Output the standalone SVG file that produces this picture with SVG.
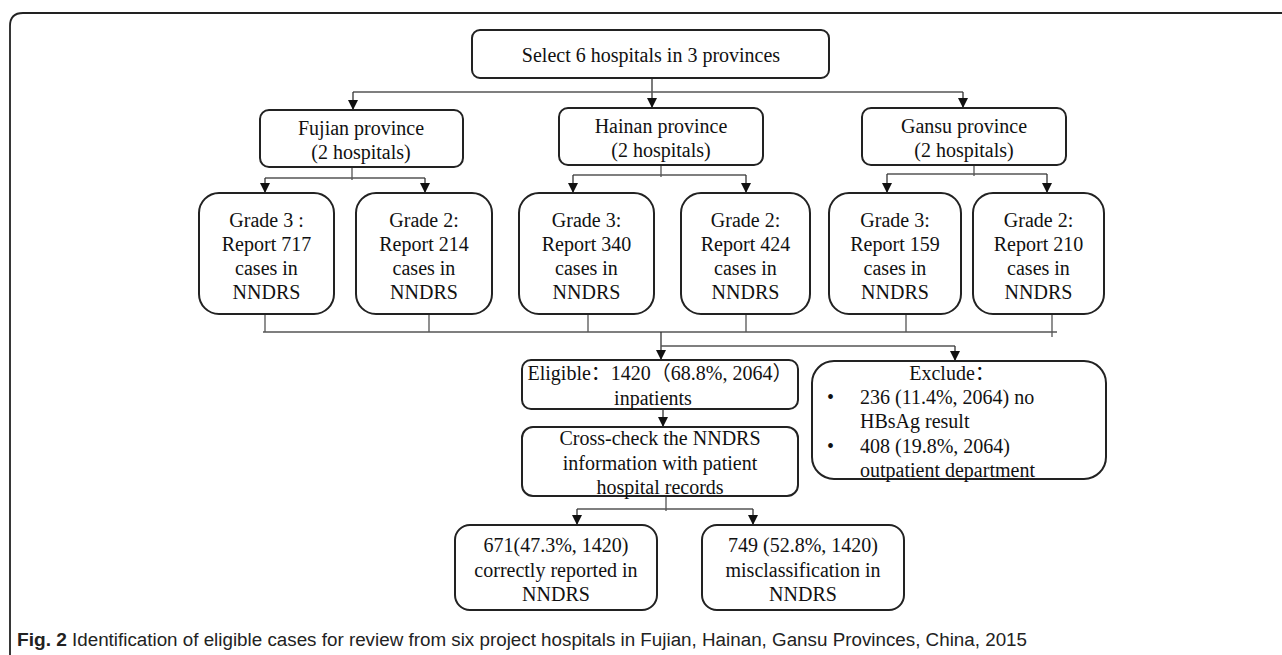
<svg xmlns="http://www.w3.org/2000/svg" width="1282" height="655" viewBox="0 0 1282 655">
<defs>
<marker id="ah" markerUnits="userSpaceOnUse" markerWidth="10" markerHeight="12" refX="10" refY="5" orient="auto">
<path d="M0,0 L10,5 L0,10 z" fill="#111"/>
</marker>
<style>
.box{fill:#fff;stroke:#222;stroke-width:2}
.t{font-family:"Liberation Serif","Noto Sans CJK SC",serif;font-size:20px;fill:#111;text-anchor:middle}
.tl{font-family:"Liberation Serif","Noto Sans CJK SC",serif;font-size:20px;fill:#111}
.c{fill:none;stroke:#555;stroke-width:1.3}
.a{fill:none;stroke:#333;stroke-width:1.3;marker-end:url(#ah)}
.cap{font-family:"Liberation Sans","DejaVu Sans",sans-serif;font-size:18px;fill:#222}
</style>
</defs>
<rect width="1282" height="655" fill="#fff"/>
<path d="M10,655 V26 Q10,13 23,13 H1282" fill="none" stroke="#222" stroke-width="1.8"/>

<g id="connectors">
<path class="a" d="M652,78 V108"/>
<path class="c" d="M353,92 H963"/>
<path class="a" d="M353,92 V110"/>
<path class="a" d="M963,92 V108"/>
<path class="c" d="M352,167 V180 M265,178 H425"/>
<path class="a" d="M265,178 V193"/>
<path class="a" d="M425,178 V193"/>
<path class="c" d="M661,165 V177 M573,175 H746"/>
<path class="a" d="M573,175 V193"/>
<path class="a" d="M746,175 V193"/>
<path class="c" d="M974,165 V176 M887,174 H1047"/>
<path class="a" d="M887,174 V193"/>
<path class="a" d="M1047,174 V193"/>
<path class="c" d="M265,314 V332 M429,314 V332 M588,314 V332 M746,314 V332 M906,314 V332 M1052,314 V337 M263,332 H1057"/>
<path class="a" d="M661,332 V360"/>
<path class="c" d="M661,346 H955"/>
<path class="a" d="M955,346 V361"/>
<path class="a" d="M663,409 V427"/>
<path class="c" d="M666,496 V511 M577,509 H753"/>
<path class="a" d="M577,509 V525"/>
<path class="a" d="M753,509 V525"/>
</g>

<g id="top">
<rect class="box" x="472" y="30" width="357" height="48" rx="8"/>
<text class="t" x="651" y="62">Select 6 hospitals in 3 provinces</text>
</g>

<g id="fujian">
<rect class="box" x="260" y="110" width="203" height="57" rx="9"/>
<text class="t" x="361" y="135">Fujian province</text>
<text class="t" x="361" y="159">(2 hospitals)</text>
</g>
<g id="hainan">
<rect class="box" x="559" y="108" width="204" height="57" rx="9"/>
<text class="t" x="661" y="133">Hainan province</text>
<text class="t" x="661" y="157">(2 hospitals)</text>
</g>
<g id="gansu">
<rect class="box" x="862" y="108" width="204" height="57" rx="9"/>
<text class="t" x="964" y="133">Gansu province</text>
<text class="t" x="964" y="157">(2 hospitals)</text>
</g>

<g id="g1">
<rect class="box" x="199" y="193" width="135" height="121" rx="20"/>
<text class="t" x="266.5" y="227">Grade 3 :</text>
<text class="t" x="266.5" y="251">Report 717</text>
<text class="t" x="266.5" y="275">cases in</text>
<text class="t" x="266.5" y="299">NNDRS</text>
</g>
<g id="g2">
<rect class="box" x="356" y="193" width="136" height="121" rx="20"/>
<text class="t" x="424" y="227">Grade 2:</text>
<text class="t" x="424" y="251">Report 214</text>
<text class="t" x="424" y="275">cases in</text>
<text class="t" x="424" y="299">NNDRS</text>
</g>
<g id="g3">
<rect class="box" x="519" y="193" width="135" height="121" rx="20"/>
<text class="t" x="586.5" y="227">Grade 3:</text>
<text class="t" x="586.5" y="251">Report 340</text>
<text class="t" x="586.5" y="275">cases in</text>
<text class="t" x="586.5" y="299">NNDRS</text>
</g>
<g id="g4">
<rect class="box" x="681" y="193" width="129" height="121" rx="20"/>
<text class="t" x="745.5" y="227">Grade 2:</text>
<text class="t" x="745.5" y="251">Report 424</text>
<text class="t" x="745.5" y="275">cases in</text>
<text class="t" x="745.5" y="299">NNDRS</text>
</g>
<g id="g5">
<rect class="box" x="829" y="193" width="132" height="121" rx="20"/>
<text class="t" x="895" y="227">Grade 3:</text>
<text class="t" x="895" y="251">Report 159</text>
<text class="t" x="895" y="275">cases in</text>
<text class="t" x="895" y="299">NNDRS</text>
</g>
<g id="g6">
<rect class="box" x="973" y="193" width="131" height="121" rx="20"/>
<text class="t" x="1038.5" y="227">Grade 2:</text>
<text class="t" x="1038.5" y="251">Report 210</text>
<text class="t" x="1038.5" y="275">cases in</text>
<text class="t" x="1038.5" y="299">NNDRS</text>
</g>

<g id="eligible">
<rect class="box" x="522" y="360" width="276" height="49" rx="9"/>
<text class="t" x="660" y="380">Eligible：1420（68.8%, 2064）</text>
<text class="t" x="653" y="405">inpatients</text>
</g>

<g id="exclude">
<rect class="box" x="812" y="361" width="294" height="118" rx="22"/>
<text class="t" x="952" y="380">Exclude：</text>
<text class="tl" x="827" y="404">•</text>
<text class="tl" x="860" y="404">236 (11.4%, 2064) no</text>
<text class="tl" x="860" y="428">HBsAg result</text>
<text class="tl" x="827" y="453">•</text>
<text class="tl" x="860" y="453">408 (19.8%, 2064)</text>
<text class="tl" x="860" y="477">outpatient department</text>
</g>

<g id="crosscheck">
<rect class="box" x="522" y="427" width="276" height="69" rx="11"/>
<text class="t" x="660" y="445">Cross-check the NNDRS</text>
<text class="t" x="660" y="470">information with patient</text>
<text class="t" x="660" y="494">hospital records</text>
</g>

<g id="correct">
<rect class="box" x="455" y="525" width="202" height="85" rx="15"/>
<text class="t" x="556" y="552">671(47.3%, 1420)</text>
<text class="t" x="556" y="577">correctly reported in</text>
<text class="t" x="556" y="601">NNDRS</text>
</g>
<g id="misclass">
<rect class="box" x="702" y="525" width="202" height="85" rx="15"/>
<text class="t" x="803" y="552">749 (52.8%, 1420)</text>
<text class="t" x="803" y="577">misclassification in</text>
<text class="t" x="803" y="601">NNDRS</text>
</g>

<g id="caption">
<text class="cap" x="17" y="646" font-weight="bold" textLength="50" lengthAdjust="spacingAndGlyphs">Fig. 2</text>
<text class="cap" x="72" y="646" textLength="955" lengthAdjust="spacingAndGlyphs">Identification of eligible cases for review from six project hospitals in Fujian, Hainan, Gansu Provinces, China, 2015</text>
</g>
</svg>
